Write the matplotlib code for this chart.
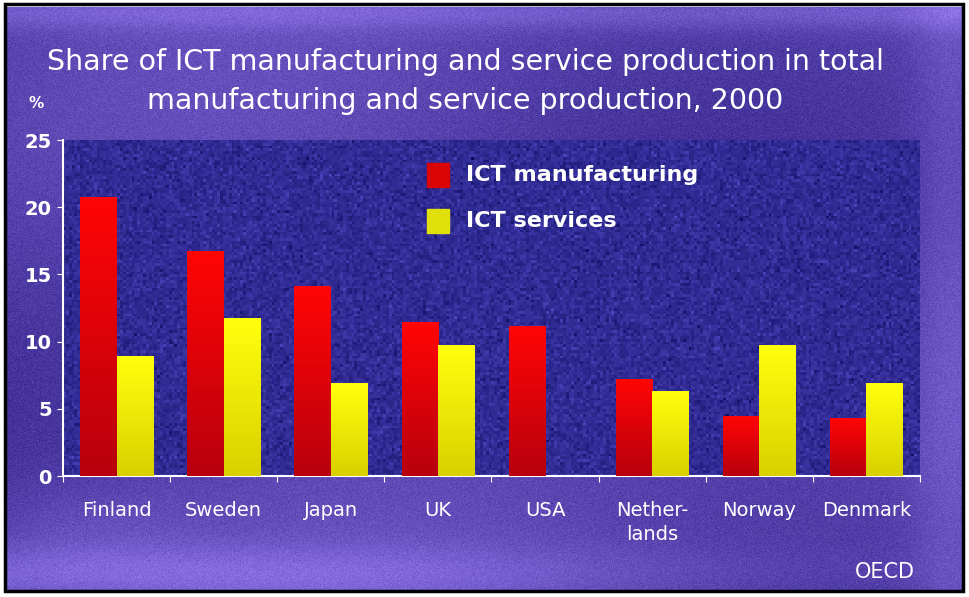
import numpy as np
import matplotlib
matplotlib.use("Agg")
import matplotlib.pyplot as plt
from matplotlib.patches import Rectangle

# Data: share (%) of ICT production, 2000
countries = ["Finland", "Sweden", "Japan", "UK", "USA", "Nether-\nlands", "Norway", "Denmark"]
ict_manufacturing = [20.7, 16.7, 14.1, 11.4, 11.1, 7.2, 4.4, 4.3]
ict_services = [8.9, 11.7, 6.9, 9.7, np.nan, 6.3, 9.7, 6.9]
y_ticks = [0, 5, 10, 15, 20, 25]

W, H = 970, 597
fig = plt.figure(figsize=(W / 100, H / 100), dpi=100)
fig.patch.set_facecolor("white")

# Slide background: purple gradient with a light grain
bg = fig.add_axes([0, 0, 1, 1], zorder=0)
bg.set_axis_off()
yy, xx = np.mgrid[0:H, 0:W]
yy = yy / H
xx = xx / W
light = np.array([0.55, 0.45, 0.90])
dark = np.array([0.22, 0.15, 0.55])
t = 0.32 + 0.22 * np.sin(xx * 5.0 + yy * 3.0) * np.cos(yy * 4.0 - xx * 2.0)
t += 0.45 * np.exp(-((yy - 0.96) / 0.05) ** 2) * (0.6 + 0.4 * np.cos(xx * 3))   # light band at bottom
t += 0.35 * np.exp(-((yy - 0.02) / 0.03) ** 2)                                  # light edge at top
t += 0.25 * np.exp(-((xx - 0.98) / 0.04) ** 2)
t += 0.2 * np.exp(-(((xx - 0.08) / 0.12) ** 2 + ((yy - 0.88) / 0.08) ** 2))
t = np.clip(t, 0, 1)[..., None]
img = dark * (1 - t) + light * t
rng = np.random.default_rng(3)
img = np.clip(img + rng.normal(0, 0.025, img.shape[:2])[..., None], 0, 1)
bg.imshow(img, extent=[0, W, H, 0], aspect="auto", interpolation="bilinear")
bg.set_xlim(0, W)
bg.set_ylim(H, 0)

# Plot area (pixel coords -> figure fractions)
left, right, top, bottom = 63, 920, 140, 476
ax = fig.add_axes([left / W, 1 - bottom / H, (right - left) / W, (bottom - top) / H], zorder=1)
area = np.array([0.19, 0.17, 0.58])
ax.set_facecolor(area)
pat = np.clip(area + rng.normal(0, 0.05, (120, 300))[..., None] * np.array([0.7, 0.6, 1.0]), 0, 1)
ax.imshow(pat, extent=[-0.5, len(countries) - 0.5, 0, 25], aspect="auto", zorder=0, interpolation="nearest")

x = np.arange(len(countries))
bw = 0.34
grad = np.linspace(1, 0, 64)[:, None]


def shaded_bars(xs, vals, top_col, bot_col):
    top_col = np.array(top_col)
    bot_col = np.array(bot_col)
    g = (top_col * grad[..., None] + bot_col * (1 - grad[..., None]))
    bars = ax.bar(xs, vals, width=bw, color=top_col, zorder=2)
    for b in bars:
        h = b.get_height()
        if not np.isfinite(h) or h <= 0:
            continue
        x0 = b.get_x()
        ax.imshow(g, extent=[x0, x0 + b.get_width(), 0, h], aspect="auto", zorder=3, interpolation="bilinear")
    return bars


shaded_bars(x - bw / 2, ict_manufacturing, (1.0, 0.02, 0.02), (0.72, 0.0, 0.05))
shaded_bars(x + bw / 2, ict_services, (1.0, 1.0, 0.05), (0.85, 0.82, 0.0))

ax.set_xlim(-0.5, len(countries) - 0.5)
ax.set_ylim(0, 25)
ax.set_yticks(y_ticks)
ax.set_yticklabels([str(v) for v in y_ticks], color="white", fontsize=14, fontweight="bold",
                   family="Liberation Sans Narrow")
ax.set_xticks(np.arange(len(countries) + 1) - 0.5, minor=False)
ax.set_xticklabels([])
ax.set_xticks(x, minor=True)
ax.set_xticklabels(countries, minor=True, color="white", fontsize=14, va="top", linespacing=1.3)
ax.tick_params(axis="x", which="minor", length=0, pad=18)
ax.tick_params(axis="x", which="major", length=4, color="white", direction="out")
ax.tick_params(axis="y", length=4, color="white", pad=4)
for s in ["top", "right"]:
    ax.spines[s].set_visible(False)
for s in ["left", "bottom"]:
    ax.spines[s].set_color("white")
    ax.spines[s].set_linewidth(1.5)

# Overlay for legend, titles and frame
ov = fig.add_axes([0, 0, 1, 1], zorder=5)
ov.set_axis_off()
ov.patch.set_alpha(0)
ov.set_xlim(0, W)
ov.set_ylim(H, 0)

for yc, col, lab in [(175, (0.85, 0.02, 0.02), "ICT manufacturing"),
                     (221, (0.88, 0.88, 0.05), "ICT services")]:
    ov.add_patch(Rectangle((427, yc - 12), 22, 24, color=col))
    ov.text(466, yc, lab, color="white", fontsize=16, fontweight="bold", va="center", ha="left")

ov.text(465, 62, "Share of ICT manufacturing and service production in total",
        color="white", fontsize=20.5, ha="center", va="center")
ov.text(465, 101, "manufacturing and service production, 2000",
        color="white", fontsize=20.5, ha="center", va="center")
ov.text(36, 104, "%", color="white", fontsize=11, fontweight="bold", ha="center", va="center")
ov.text(915, 572, "OECD", color="white", fontsize=15, ha="right", va="center")

# white margin and black frame
ov.add_patch(Rectangle((0, 0), W, H, fill=False, ec="white", lw=10))
ov.add_patch(Rectangle((5, 4), 958, 587, fill=False, ec="black", lw=2.5))

fig.savefig("out.png", dpi=100, facecolor=fig.get_facecolor())
